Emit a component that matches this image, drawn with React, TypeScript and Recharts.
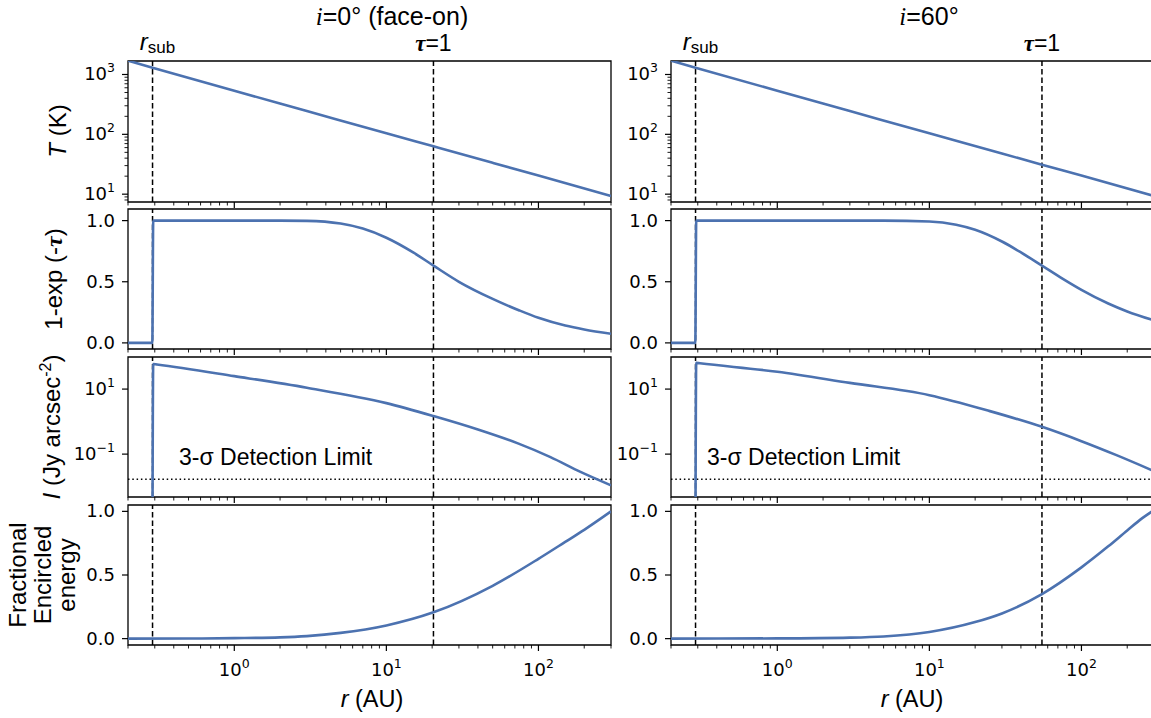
import React from 'react';
import { LineChart, Line, XAxis, YAxis, ReferenceLine, ReferenceArea } from 'recharts';

// ---------------- data ----------------
const R_DOMAIN: [number, number] = [0.2, 300];
const R_SUB = 0.29;
const TAU1_FACE_ON = 20.4;
const TAU1_INCLINED = 55;
const DETECTION_LIMIT = 0.017;

const rTicks = [0.2, 0.3, 0.4, 0.5, 0.6, 0.7, 0.8, 0.9, 1, 2, 3, 4, 5, 6, 7, 8, 9, 10, 20, 30, 40, 50, 60, 70, 80, 90, 100, 200, 300];
const tempTicks = [8, 9, 10, 20, 30, 40, 50, 60, 70, 80, 90, 100, 200, 300, 400, 500, 600, 700, 800, 900, 1000];
const fracTicks = [0, 0.5, 1];
const intensityTicks = [0.1, 10];

const TEMP_DOMAIN: [number, number] = [7.4, 1680];
const OPACITY_DOMAIN: [number, number] = [-0.05, 1.095];
const INTENSITY_DOMAIN: [number, number] = [0.0048, 97];
const ENERGY_DOMAIN: [number, number] = [-0.05, 1.05];

// face-on (i = 0)
const faceTempR = [0.2, 0.29, 1, 3, 10, 20.4, 50, 100, 300];
const faceTemp = [1700, 1300, 535, 245, 104, 63, 33.5, 20.5, 9.3];
const faceOpacR = [0.2, 0.289, 0.293, 1, 2, 3, 5, 7, 10, 15, 20.4, 30, 50, 75, 100, 150, 200, 300];
const faceOpac = [0, 0, 1, 1, 1, 0.998, 0.976, 0.935, 0.86, 0.74, 0.632, 0.5, 0.36, 0.265, 0.205, 0.142, 0.11, 0.075];
const faceIntR = [0.289, 0.293, 0.31, 1, 3, 10, 20.4, 40, 74, 120, 189, 300];
const faceInt = [1e-5, 59, 57, 25, 11, 3.7, 1.48, 0.57, 0.21, 0.081, 0.0285, 0.011];
const faceEncR = [0.2, 0.5, 1, 2, 3, 5, 10, 20.4, 50, 100, 150, 200, 300];
const faceEnc = [0, 0.001, 0.004, 0.01, 0.02, 0.045, 0.104, 0.207, 0.415, 0.627, 0.76, 0.855, 1.0];

// inclined (i = 60)
const inclTempR = [0.2, 0.29, 1, 3, 10, 30, 55, 100, 300];
const inclTemp = [1700, 1300, 535, 245, 104, 48, 31, 20.5, 9.3];
const inclOpacR = [0.2, 0.289, 0.293, 1, 3, 5, 10, 15, 20, 30, 40, 55, 75, 100, 150, 200, 300];
const inclOpac = [0, 0, 1, 1, 1, 1, 0.993, 0.966, 0.925, 0.829, 0.74, 0.632, 0.526, 0.434, 0.322, 0.257, 0.184];
const inclIntR = [0.289, 0.293, 0.31, 1, 3, 10, 25, 55, 100, 170, 300];
const inclInt = [1e-5, 64, 62, 34, 15.5, 6.5, 2.1, 0.69, 0.25, 0.093, 0.03];
const inclEncR = [0.2, 1, 3, 5, 10, 20, 30, 55, 100, 150, 200, 250, 300];
const inclEnc = [0, 0.002, 0.008, 0.017, 0.052, 0.13, 0.198, 0.35, 0.56, 0.725, 0.85, 0.945, 1.01];

// ---------------- styling ----------------
const BLUE = '#4C72B0';
const TICK_FONT = '"DejaVu Sans", sans-serif';
const LABEL_FONT = '"Liberation Sans", Arial, sans-serif';
const SERIF = '"Liberation Serif", serif';
const TICK_SIZE = 18;
const SUP_SIZE = 12.5;

const PLOT_W = 483;
const YW = 60;
const MR = 4;

const zip = (rs: number[], vs: number[]) => rs.map((r, i) => ({ r, v: vs[i] }));
const isDecade = (v: number) => Math.abs(Math.log10(v) - Math.round(Math.log10(v))) < 1e-6;
const expText = (v: number) => {
  const e = Math.round(Math.log10(v));
  return e < 0 ? `\u2212${-e}` : `${e}`;
};

const makeXTick = (showLabels: boolean) => (props: any) => {
  const { x, y, payload } = props;
  const v = payload.value as number;
  const major = isDecade(v);
  return (
    <g>
      <line x1={x} x2={x} y1={y} y2={y + (major ? 6 : 3.5)} stroke="#000" strokeWidth={major ? 1.2 : 0.9} />
      {showLabels && major && (
        <text x={x} y={y + 31} textAnchor="middle" fontFamily={TICK_FONT} fontSize={TICK_SIZE} fill="#000">
          10<tspan dy={-8.5} fontSize={SUP_SIZE}>{expText(v)}</tspan>
        </text>
      )}
    </g>
  );
};

const makeYTick = (log: boolean) => (props: any) => {
  const { x, y, payload } = props;
  const v = payload.value as number;
  const major = !log || isDecade(v);
  return (
    <g>
      <line x1={x} x2={x - (major ? 6 : 3.5)} y1={y} y2={y} stroke="#000" strokeWidth={major ? 1.2 : 0.9} />
      {major && (
        <text x={x - 13} y={y + 6} textAnchor="end" fontFamily={TICK_FONT} fontSize={TICK_SIZE} fill="#000">
          {log ? (
            <>
              10<tspan dy={-8.5} fontSize={SUP_SIZE}>{expText(v)}</tspan>
            </>
          ) : (
            v.toFixed(1)
          )}
        </text>
      )}
    </g>
  );
};

const RsubLabel = (props: any) => {
  const { viewBox } = props;
  return (
    <text x={viewBox.x + 5} y={viewBox.y - 11} textAnchor="middle" fontFamily={LABEL_FONT} fontSize={24} fill="#000">
      <tspan fontStyle="italic">r</tspan>
      <tspan fontSize={17} dy={3}>sub</tspan>
    </text>
  );
};

const TauLabel = (props: any) => {
  const { viewBox } = props;
  return (
    <text x={viewBox.x} y={viewBox.y - 10} textAnchor="middle" fontFamily={LABEL_FONT} fontSize={23} fill="#000">
      <tspan fontFamily={SERIF} fontStyle="italic" fontWeight="bold">τ</tspan>=1
    </text>
  );
};

const DetectionLabel = (props: any) => {
  const { viewBox, shiftX } = props;
  return (
    <text x={viewBox.x + shiftX} y={viewBox.y - 14} fontFamily={LABEL_FONT} fontSize={23} fill="#000">
      3-σ Detection Limit
    </text>
  );
};

type Row = {
  top: number;
  h: number;
  log: boolean;
  domain: [number, number];
  ticks: number[];
};

const ROWS: Row[] = [
  { top: 61, h: 141, log: true, domain: TEMP_DOMAIN, ticks: tempTicks },
  { top: 209, h: 140, log: false, domain: OPACITY_DOMAIN, ticks: fracTicks },
  { top: 357, h: 140, log: true, domain: INTENSITY_DOMAIN, ticks: intensityTicks },
  { top: 505, h: 140, log: false, domain: ENERGY_DOMAIN, ticks: fracTicks },
];

type Col = { left: number; tau1: number; series: { r: number; v: number }[][]; detShift: number };

const COLS: Col[] = [
  {
    left: 128,
    tau1: TAU1_FACE_ON,
    detShift: 51,
    series: [zip(faceTempR, faceTemp), zip(faceOpacR, faceOpac), zip(faceIntR, faceInt), zip(faceEncR, faceEnc)],
  },
  {
    left: 671,
    tau1: TAU1_INCLINED,
    detShift: 36,
    series: [zip(inclTempR, inclTemp), zip(inclOpacR, inclOpac), zip(inclIntR, inclInt), zip(inclEncR, inclEnc)],
  },
];

function Panel({ col, rowIndex }: { col: Col; rowIndex: number }) {
  const row = ROWS[rowIndex];
  const MT = rowIndex === 0 ? 50 : 4;
  const XH = rowIndex === 3 ? 40 : 8;
  const width = YW + PLOT_W + MR;
  const height = MT + row.h + XH;
  const data = col.series[rowIndex];
  return (
    <div style={{ position: 'absolute', left: col.left - YW, top: row.top - MT }}>
      <LineChart width={width} height={height} data={data} margin={{ top: MT, right: MR, bottom: 0, left: 0 }}>
        <XAxis
          dataKey="r"
          type="number"
          scale="log"
          domain={R_DOMAIN}
          allowDataOverflow
          ticks={rTicks}
          interval={0}
          tickSize={0}
          tickMargin={0}
          axisLine={false}
          tickLine={false}
          height={XH}
          tick={makeXTick(rowIndex === 3)}
        />
        <YAxis
          type="number"
          scale={row.log ? 'log' : 'linear'}
          domain={row.domain}
          allowDataOverflow
          ticks={row.ticks}
          interval={0}
          tickSize={0}
          tickMargin={0}
          axisLine={false}
          tickLine={false}
          width={YW}
          tick={makeYTick(row.log)}
        />
        <ReferenceLine
          x={R_SUB}
          stroke="#000"
          strokeWidth={1.5}
          strokeDasharray="5.5 3"
          label={rowIndex === 0 ? <RsubLabel /> : undefined}
        />
        <ReferenceLine
          x={col.tau1}
          stroke="#000"
          strokeWidth={1.5}
          strokeDasharray="5.5 3"
          label={rowIndex === 0 ? <TauLabel /> : undefined}
        />
        {rowIndex === 2 && (
          <ReferenceLine
            y={DETECTION_LIMIT}
            stroke="#000"
            strokeWidth={1.5}
            strokeDasharray="1.5 2.8"
            label={<DetectionLabel shiftX={col.detShift} />}
          />
        )}
        <Line
          dataKey="v"
          type="monotone"
          stroke={BLUE}
          strokeWidth={2.6}
          dot={false}
          isAnimationActive={false}
        />
        <ReferenceArea
          x1={R_DOMAIN[0]}
          x2={R_DOMAIN[1]}
          y1={row.domain[0]}
          y2={row.domain[1]}
          fill="none"
          fillOpacity={0}
          stroke="#000"
          strokeWidth={1.3}
          ifOverflow="visible"
        />
      </LineChart>
    </div>
  );
}

export default function App() {
  return (
    <div
      style={{
        position: 'absolute',
        left: 0,
        top: 0,
        width: 1151,
        height: 718,
        overflow: 'hidden',
        background: '#fff',
      }}
    >
      {COLS.map((col, ci) => ROWS.map((_, ri) => <Panel key={`${ci}-${ri}`} col={col} rowIndex={ri} />))}
      <svg
        width={1151}
        height={718}
        style={{ position: 'absolute', left: 0, top: 0, pointerEvents: 'none' }}
        fontFamily={LABEL_FONT}
      >
        <text x={392} y={25} textAnchor="middle" fontSize={25} fill="#000">
          <tspan fontFamily={SERIF} fontStyle="italic">i</tspan>=0° (face-on)
        </text>
        <text x={929} y={25} textAnchor="middle" fontSize={25} fill="#000">
          <tspan fontFamily={SERIF} fontStyle="italic">i</tspan>=60°
        </text>
        <text x={372} y={707} textAnchor="middle" fontSize={23.5} fill="#000">
          <tspan fontStyle="italic">r</tspan> (AU)
        </text>
        <text x={912} y={707} textAnchor="middle" fontSize={23.5} fill="#000">
          <tspan fontStyle="italic">r</tspan> (AU)
        </text>
        <text transform="translate(66,131) rotate(-90)" textAnchor="middle" fontSize={24} fill="#000">
          <tspan fontStyle="italic">T</tspan> (K)
        </text>
        <text transform="translate(62,279) rotate(-90)" textAnchor="middle" fontSize={24} fill="#000">
          1-exp (-<tspan fontFamily={SERIF} fontStyle="italic" fontWeight="bold">τ</tspan>)
        </text>
        <text transform="translate(60,427) rotate(-90)" textAnchor="middle" fontSize={24} fill="#000">
          <tspan fontStyle="italic">I</tspan> (Jy arcsec<tspan dy={-9} fontSize={16}>-2</tspan>
          <tspan dy={9}>)</tspan>
        </text>
        <text transform="translate(26,575) rotate(-90)" textAnchor="middle" fontSize={24} fill="#000">
          Fractional
        </text>
        <text transform="translate(51,575) rotate(-90)" textAnchor="middle" fontSize={24} fill="#000">
          Encircled
        </text>
        <text transform="translate(75,575) rotate(-90)" textAnchor="middle" fontSize={24} fill="#000">
          energy
        </text>
      </svg>
    </div>
  );
}
